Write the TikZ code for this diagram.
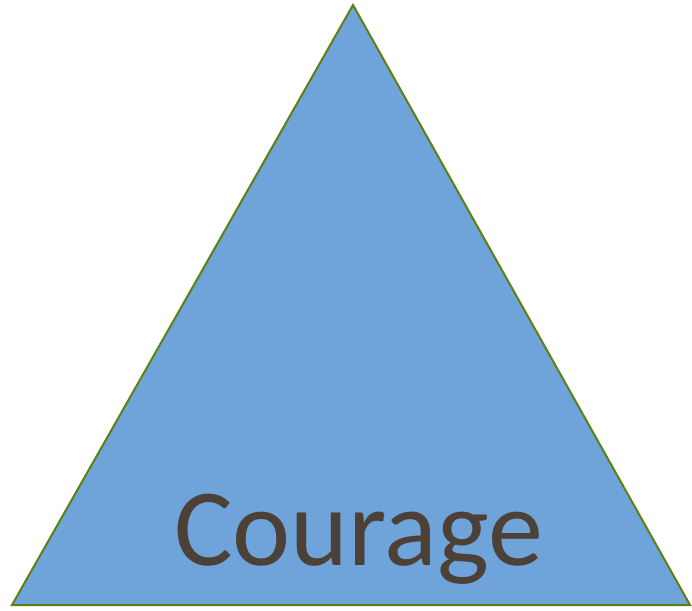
\documentclass[tikz,border=0pt]{standalone}
\usepackage{fontspec}
\setmainfont{Carlito}
\definecolor{trifill}{HTML}{6FA4DB}
\definecolor{triline}{HTML}{5E7F12}
\definecolor{txt}{HTML}{4D4037}
\begin{document}
\begin{tikzpicture}[x=1pt,y=1pt,
  tri/.style={fill=trifill,draw=triline,line width=2pt,line join=miter},
  lbl/.style={text=txt,font=\fontsize{110}{112}\selectfont,inner sep=0pt,anchor=base}]
\useasboundingbox (0,0) rectangle (692,610);
\coordinate (top) at (353,605);
\coordinate (bl) at (12,5);
\coordinate (br) at (690,5);
\draw[tri] (top) -- (br) -- (bl) -- cycle;
\node[lbl] (courage) at (358.5,45) {Courage};
\end{tikzpicture}
\end{document}
